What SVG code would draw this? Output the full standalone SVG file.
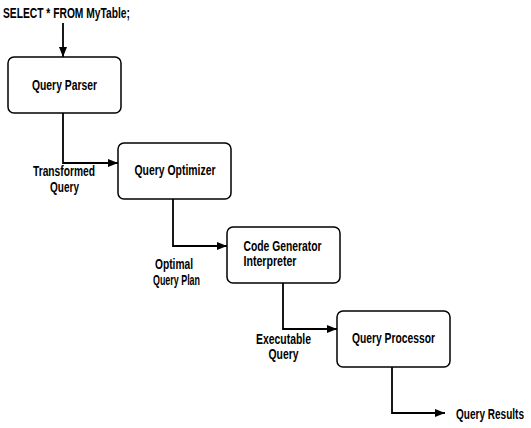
<svg xmlns="http://www.w3.org/2000/svg" width="531" height="428" viewBox="0 0 531 428">
<defs>
<marker id="arr" viewBox="0 0 10 8" refX="10" refY="4" markerWidth="10" markerHeight="8" markerUnits="userSpaceOnUse" orient="auto">
<path d="M0,0 L10,4 L0,8 Z" fill="#000"/>
</marker>
</defs>
<style>
.box{fill:#fff;stroke:#000;stroke-width:1.5}
.con{fill:none;stroke:#000;stroke-width:1.8;marker-end:url(#arr)}
text{font-family:"Liberation Sans Narrow","Liberation Sans",Arial,sans-serif;font-size:15px;fill:#000;font-weight:bold}
.sm{font-size:14px}
</style>
<rect width="531" height="428" fill="#fff"/>
<g id="connectors">
<path class="con" d="M63,23 V57"/>
<path class="con" d="M63,113 V163 H118"/>
<path class="con" d="M173,199 V246 H227"/>
<path class="con" d="M283,283 V329 H337"/>
<path class="con" d="M392,367 V413 H445"/>
</g>
<g id="input"><text x="3" y="18.3" textLength="127" lengthAdjust="spacingAndGlyphs">SELECT * FROM MyTable;</text></g>
<g id="parser">
<rect class="box" x="8" y="57" width="113" height="56" rx="6"/>
<text x="32" y="89.7" textLength="65" lengthAdjust="spacingAndGlyphs">Query Parser</text>
</g>
<g id="label-transformed">
<text x="33" y="176.3" textLength="62" lengthAdjust="spacingAndGlyphs">Transformed</text>
<text x="50" y="191.8" textLength="29" lengthAdjust="spacingAndGlyphs">Query</text>
</g>
<g id="optimizer">
<rect class="box" x="118" y="143" width="113" height="56" rx="6"/>
<text x="134.5" y="175.3" textLength="81" lengthAdjust="spacingAndGlyphs">Query Optimizer</text>
</g>
<g id="label-optimal">
<text x="155" y="269.3" textLength="38" lengthAdjust="spacingAndGlyphs">Optimal</text>
<text x="153" y="285.3" textLength="47" lengthAdjust="spacingAndGlyphs">Query Plan</text>
</g>
<g id="codegen">
<rect class="box" x="227" y="227" width="113" height="56" rx="6"/>
<text class="sm" x="243.5" y="250.7" textLength="78" lengthAdjust="spacingAndGlyphs">Code Generator</text>
<text class="sm" x="243.5" y="266" textLength="53" lengthAdjust="spacingAndGlyphs">Interpreter</text>
</g>
<g id="label-executable">
<text x="256" y="343.5" textLength="55" lengthAdjust="spacingAndGlyphs">Executable</text>
<text x="268.5" y="359.3" textLength="30" lengthAdjust="spacingAndGlyphs">Query</text>
</g>
<g id="processor">
<rect class="box" x="337" y="311" width="113" height="56" rx="6"/>
<text x="352" y="342.5" textLength="83" lengthAdjust="spacingAndGlyphs">Query Processor</text>
</g>
<g id="results"><text class="sm" x="456" y="419" textLength="68" lengthAdjust="spacingAndGlyphs">Query Results</text></g>
</svg>
